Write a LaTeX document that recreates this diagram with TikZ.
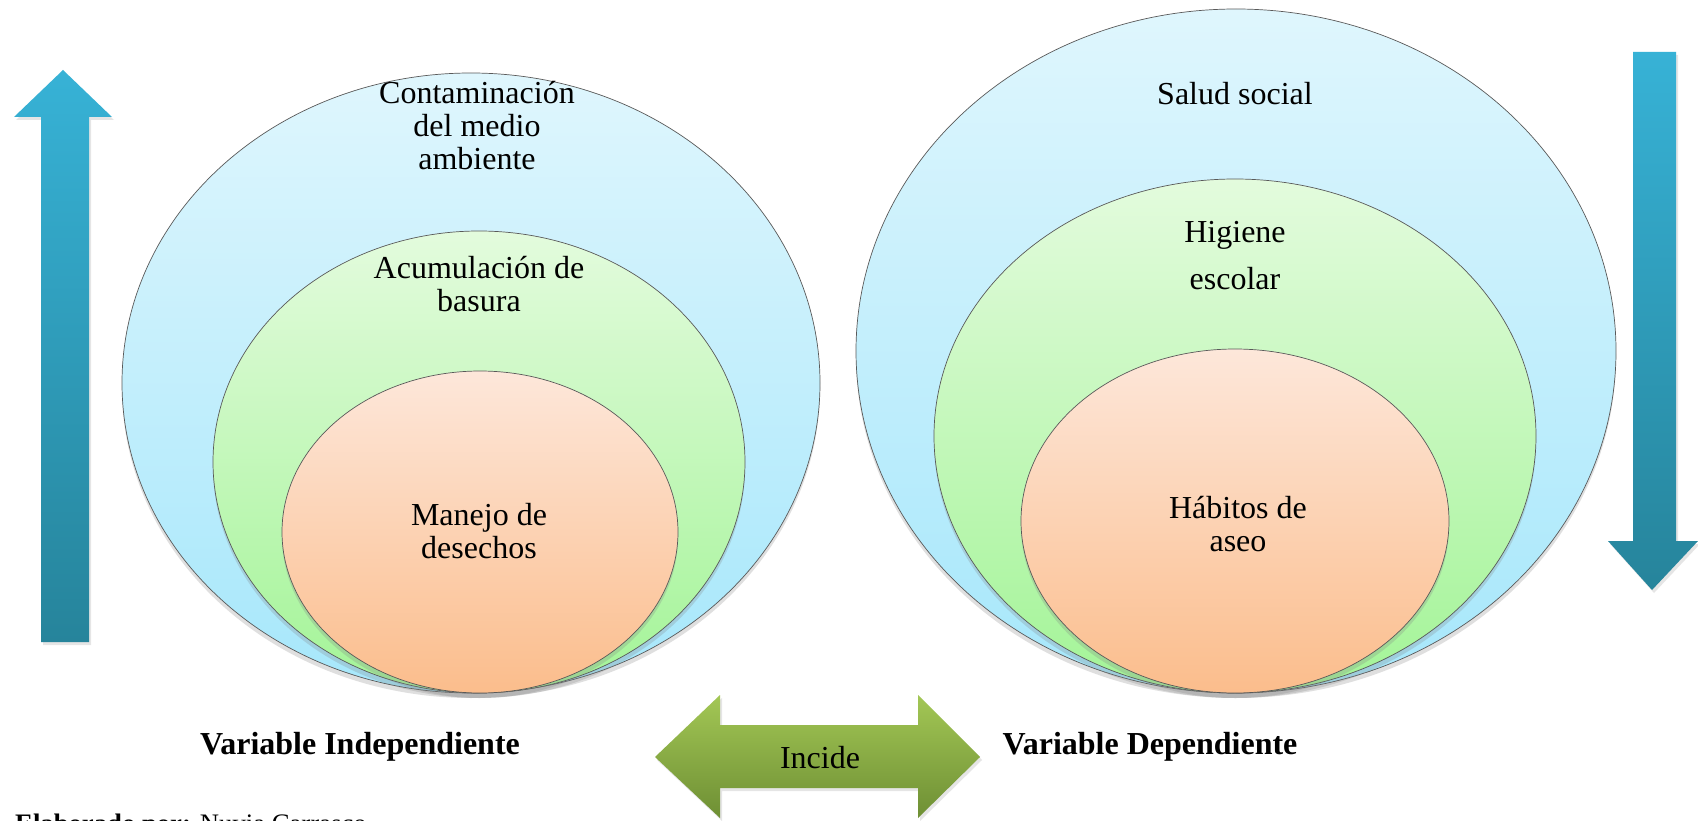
\documentclass[tikz,border=0pt]{standalone}
\usepackage{fontspec}
\setmainfont{Liberation Serif}
\usetikzlibrary{shapes.geometric,shadows}
\definecolor{blueTop}{HTML}{DFF6FD}
\definecolor{blueBot}{HTML}{A6E7FB}
\definecolor{greenTop}{HTML}{E3FBDD}
\definecolor{greenBot}{HTML}{A3F497}
\definecolor{orTop}{HTML}{FDE7DA}
\definecolor{orBot}{HTML}{FBBD8C}
\definecolor{arrTop}{HTML}{37B2D6}
\definecolor{arrBot}{HTML}{26849B}
\definecolor{grnTop}{HTML}{A3C755}
\definecolor{grnBot}{HTML}{6E8F34}
\begin{document}
\begin{tikzpicture}[x=1pt,y=-1pt,
  ell/.style={ellipse, draw=black!65, line width=0.7pt, inner sep=0pt,
    drop shadow={opacity=0.25, shadow xshift=0pt, shadow yshift=-5pt}},
  blueell/.style={ell, top color=blueTop, bottom color=blueBot},
  greenell/.style={ell, top color=greenTop, bottom color=greenBot},
  orell/.style={ell, top color=orTop, bottom color=orBot},
  lab/.style={align=center, inner sep=0pt, font=\fontsize{32}{33}\selectfont},
  varlab/.style={inner sep=0pt, font=\fontsize{32}{33}\selectfont\bfseries},
  bluearrow/.style={top color=arrTop, bottom color=arrBot, draw=none,
    drop shadow={opacity=0.2, shadow xshift=2pt, shadow yshift=-3pt}},
  greenarrow/.style={top color=grnTop, bottom color=grnBot, draw=none,
    drop shadow={opacity=0.2, shadow xshift=2pt, shadow yshift=-3pt}}
]
\useasboundingbox (0,0) rectangle (1698,821);
\clip (0,0) rectangle (1698,821);
\fill[white] (0,0) rectangle (1698,821);

% left arrow (up)
\path[bluearrow] (63,70) -- (112,117) -- (89,117) -- (89,642) -- (41,642) -- (41,117) -- (14,117) -- cycle;
% right arrow (down)
\path[bluearrow] (1633,52) -- (1676,52) -- (1676,541) -- (1698,541) -- (1652,590) -- (1608,541) -- (1633,541) -- cycle;

% left ellipses
\node[blueell, minimum width=698pt, minimum height=620pt] (lo) at (471,383) {};
\node[greenell, minimum width=532pt, minimum height=462pt] (lm) at (479,462) {};
\node[orell, minimum width=396pt, minimum height=322pt] (li) at (480,532) {};
% right ellipses
\node[blueell, minimum width=760pt, minimum height=684pt] (ro) at (1236,351) {};
\node[greenell, minimum width=602pt, minimum height=514pt] (rm) at (1235,436) {};
\node[orell, minimum width=428pt, minimum height=344pt] (ri) at (1235,521) {};

% labels
\node[lab] (t1) at (477,126) {Contaminación\\del medio\\ambiente};
\node[lab] (t2) at (479,284) {Acumulación de\\basura};
\node[lab] (t3) at (479,531) {Manejo de\\desechos};
\node[lab] (t4) at (1235,94) {Salud social};
\node[lab, font=\fontsize{32}{47}\selectfont] (t5) at (1235,256) {Higiene\\escolar};
\node[lab] (t6) at (1238,524) {Hábitos de\\aseo};

\node[varlab] (vi) at (360,747) {Variable Independiente};
\node[varlab] (vd) at (1150,747) {Variable Dependiente};

% double arrow "Incide"
\path[greenarrow] (655,757) -- (720,695) -- (720,725) -- (918,725) -- (918,695) -- (980,757) -- (918,818) -- (918,788) -- (720,788) -- (720,818) -- cycle;
\node[lab] (inc) at (820,758) {Incide};

% source line (cut off at the bottom edge, as in the reference)
\node[anchor=base west, inner sep=0pt, font=\fontsize{26.7}{27}\selectfont] (src) at (15,832) {\textbf{Elaborado por:} Nuvia Carrasco};
\end{tikzpicture}
\end{document}
